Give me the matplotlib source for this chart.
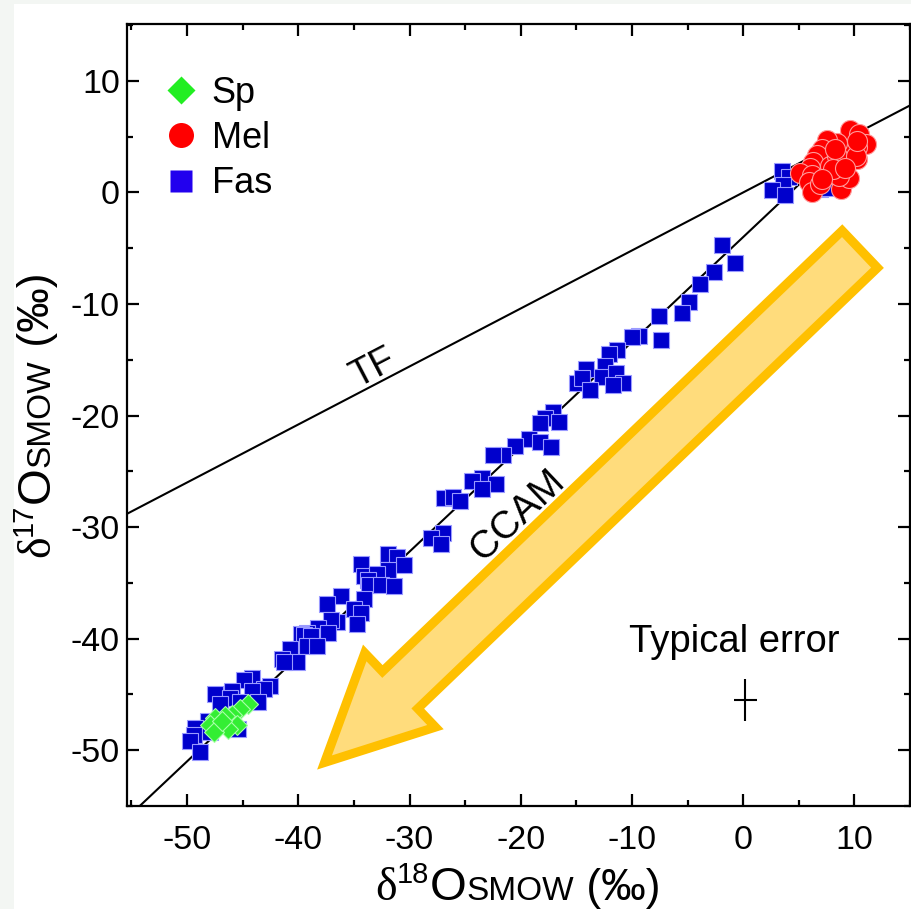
import matplotlib
matplotlib.use('Agg')
import matplotlib.pyplot as plt
from matplotlib.patches import FancyArrow, Rectangle
from matplotlib.lines import Line2D
from matplotlib.ticker import MultipleLocator
import numpy as np

plt.rcParams['font.family'] = ['Liberation Sans', 'DejaVu Sans']
plt.rcParams['axes.unicode_minus'] = False

# ---------------- data ----------------
fas_x = [3.5, 4.1, 3.6, 2.6, 3.8, 6.9, 7.4,
         -1.9, -0.7, -2.6, -3.9, -4.9, -5.5, -7.6, -7.4, -9.4, -10.0, -11.3, -12.1,
         -12.4, -14.1, -12.7, -11.4, -10.8, -11.7, -14.9, -14.5, -13.8, -17.1, -17.8,
         -18.3, -16.6, -19.3, -18.3, -17.3, -20.5, -21.6, -22.5, -23.5, -24.4, -22.2,
         -23.5, -26.9, -26.1, -25.5, -27.0, -28.1, -27.2, -31.9, -31.1, -30.5, -34.4,
         -31.9, -34.1, -32.9, -33.7, -33.6, -32.6, -31.4, -36.2, -37.4, -34.1, -35.0,
         -34.4, -36.5, -37.1, -34.7, -38.2, -39.2, -39.8, -37.3, -39.5, -38.9, -39.2,
         -38.3, -40.7, -41.5, -40.1, -41.3, -44.2, -44.9, -42.5, -43.1, -44.2, -46.0,
         -47.5, -46.1, -43.6, -45.2, -47.0, -48.1, -49.3, -49.4, -49.7, -48.8, -45.4,
         -47.9]
fas_y = [1.9, 1.4, 0.7, 0.2, -0.2, 0.3, 0.4,
         -4.7, -6.3, -7.1, -8.2, -9.8, -10.8, -11.1, -13.2, -12.9, -13.0, -14.1, -14.5,
         -15.6, -15.8, -16.5, -16.2, -17.1, -17.3, -17.1, -16.6, -17.7, -19.7, -20.2,
         -20.7, -20.6, -22.1, -22.4, -22.8, -22.7, -23.5, -23.5, -25.6, -25.9, -26.1,
         -26.6, -27.4, -27.3, -27.7, -30.5, -31.0, -31.5, -32.4, -32.7, -33.4, -33.3,
         -33.8, -34.4, -34.2, -34.7, -35.2, -35.2, -35.3, -36.2, -36.9, -36.4, -37.3,
         -37.7, -38.5, -38.3, -38.7, -39.0, -39.5, -39.6, -39.5, -39.7, -39.8, -40.7,
         -40.7, -40.9, -41.8, -42.1, -42.1, -43.5, -43.7, -44.2, -44.5, -44.7, -44.7,
         -45.0, -45.3, -45.7, -45.7, -45.9, -47.4, -48.0, -48.6, -49.2, -50.2, -48.1,
         -48.4]

mel_x = [9.6, 10.4, 11.0, 10.2, 10.2, 9.3, 8.4, 7.5, 7.1, 6.6, 6.3, 6.0, 5.1, 6.2, 5.9,
         6.2, 7.5, 7.8, 8.7, 8.4, 8.3, 8.8, 9.5, 8.6, 6.9, 10.1, 8.1, 7.1, 10.2, 9.2]
mel_y = [5.6, 5.2, 4.3, 4.1, 3.0, 3.6, 4.4, 4.7, 3.9, 3.4, 2.7, 2.2, 1.7, 1.6, 0.9,
         0.0, 1.6, 2.4, 2.1, 3.3, 3.9, 0.3, 1.3, 1.5, 0.8, 3.3, 2.1, 1.2, 4.6, 2.2]

sp_x = [-44.5, -45.2, -46.0, -46.6, -47.5, -47.9, -45.5, -46.3, -47.6, -46.9]
sp_y = [-45.9, -46.3, -46.8, -46.9, -47.1, -47.7, -47.7, -48.1, -48.4, -47.4]

series_labels = ['Sp', 'Mel', 'Fas']

tf_slope, tf_icpt = 0.52, 0.0
ccam_slope, ccam_icpt = 0.94, -4.0

err_x, err_y, err_dx, err_dy = 0.2, -45.5, 1.0, 1.9

xlim = (-55.4, 15.0)
ylim = (-55.0, 15.1)
xticks = [-50, -40, -30, -20, -10, 0, 10]
yticks = [-50, -40, -30, -20, -10, 0, 10]

# arrow annotation (data coords)
arr_start = (10.49, -5.09)
arr_delta = (-48.13, -46.01)

# ---------------- figure ----------------
W, H = 912, 909
fig = plt.figure(figsize=(W / 100, H / 100), dpi=100)
fig.patch.set_facecolor('white')
fig.patches.append(Rectangle((0, 0), 14 / W, 1, transform=fig.transFigure,
                             facecolor='#f3f6f3', edgecolor='none', zorder=-10))
fig.patches.append(Rectangle((0, 1 - 4 / H), 1, 4 / H, transform=fig.transFigure,
                             facecolor='#f3f6f3', edgecolor='none', zorder=-10))

ax = fig.add_axes([127 / W, 1 - 806 / H, (910 - 127) / W, (806 - 24) / H])
ax.set_xlim(*xlim)
ax.set_ylim(*ylim)

# reference lines
tf_x = np.array(xlim)
ax.plot(tf_x, tf_slope * tf_x + tf_icpt, color='black', lw=1.5, zorder=2)
x_cross = (tf_icpt - ccam_icpt) / (ccam_slope - tf_slope)
x_bot = (ylim[0] - ccam_icpt) / ccam_slope
cc_x = np.array([x_bot, x_cross])
ax.plot(cc_x, ccam_slope * cc_x + ccam_icpt, color='black', lw=1.5, zorder=2)

# arrow
arrow = FancyArrow(arr_start[0], arr_start[1], arr_delta[0], arr_delta[1],
                   width=4.6, head_width=9.2, head_length=9.4,
                   length_includes_head=True, facecolor='#ffdc7c',
                   edgecolor='#ffc000', lw=6.5, joinstyle='miter', zorder=3)
ax.add_patch(arrow)

# data
ax.plot(fas_x, fas_y, ls='none', marker='s', ms=12.2, mfc='#0000cc',
        mec='#9a9aff', mew=0.8, zorder=4)
ax.plot(mel_x, mel_y, ls='none', marker='o', ms=14.4, mfc='#ff0000',
        mec='#ff9a9a', mew=0.8, zorder=5)
ax.plot(sp_x, sp_y, ls='none', marker='D', ms=10.5, mfc='#33ee33',
        mec='#a8ffa8', mew=0.8, zorder=6)

# typical error
ax.errorbar([err_x], [err_y], xerr=[err_dx], yerr=[err_dy], fmt='none',
            ecolor='black', elinewidth=1.5, capsize=0, zorder=6)
ax.text(-0.8, -40.3, 'Typical error', ha='center', va='center', fontsize=27.5)

# line labels
ax.text(-32.9, -16.6, 'TF', rotation=np.degrees(np.arctan(tf_slope)),
        rotation_mode='anchor', transform_rotates_text=True,
        ha='center', va='baseline', fontsize=27)
ax.text(-20.3, -29.0, 'CCAM', rotation=np.degrees(np.arctan(ccam_slope)),
        rotation_mode='anchor', transform_rotates_text=True,
        ha='center', va='center', fontsize=28)

# legend
handles = [Line2D([], [], ls='none', marker='D', ms=14.0, mfc='#22ee22', mec='none'),
           Line2D([], [], ls='none', marker='o', ms=18.0, mfc='#ff0000', mec='none'),
           Line2D([], [], ls='none', marker='s', ms=15.5, mfc='#2200ee', mec='none')]
ax.legend(handles, series_labels, loc='upper left',
          bbox_to_anchor=((163 - 127) / 783, 1 - (76 - 24) / 782),
          frameon=False, fontsize=26, handlelength=1.0, handletextpad=0.35,
          labelspacing=0.28, borderpad=0, borderaxespad=0)

# ticks & spines
ax.xaxis.set_major_locator(MultipleLocator(10))
ax.yaxis.set_major_locator(MultipleLocator(10))
ax.xaxis.set_minor_locator(MultipleLocator(5))
ax.yaxis.set_minor_locator(MultipleLocator(5))
ax.set_xticks(xticks)
ax.set_yticks(yticks)
ax.tick_params(which='both', direction='in', top=True, right=True, width=1.6,
               labelsize=24.5, colors='black')
ax.tick_params(which='major', length=8.5)
ax.tick_params(which='minor', length=4.3)
ax.tick_params(axis='x', pad=14)
ax.tick_params(axis='y', pad=5)
for sp in ax.spines.values():
    sp.set_linewidth(1.6)


# composite axis labels
def draw_pieces(pieces, center, baseline, vertical=False):
    r = fig.canvas.get_renderer()
    widths = []
    for s, size, fam, rise in pieces:
        t = fig.text(0, 0, s, fontsize=size, family=fam)
        widths.append(t.get_window_extent(r).width)
        t.remove()
    total = sum(widths)
    if not vertical:
        x = center - total / 2
        for (s, size, fam, rise), w in zip(pieces, widths):
            fig.text(x / W, (H - (baseline - rise)) / H, s, fontsize=size,
                     family=fam, ha='left', va='baseline')
            x += w
    else:
        y = center + total / 2
        for (s, size, fam, rise), w in zip(pieces, widths):
            fig.text((baseline - rise) / W, (H - y) / H, s, fontsize=size,
                     family=fam, ha='left', va='baseline', rotation=90,
                     rotation_mode='anchor')
            y -= w


sans = ['Liberation Sans', 'DejaVu Sans']
serif = ['Liberation Serif', 'DejaVu Serif']
xl = [('δ', 33, serif, 0), ('18', 21, sans, 17), ('O', 34, sans, 0),
      ('SMOW', 24, sans, 0), (' (‰)', 32, sans, 0)]
yl = [('δ', 33, serif, 0), ('17', 21, sans, 17), ('O', 34, sans, 0),
      ('SMOW', 24, sans, 0), (' (‰)', 32, sans, 0)]
draw_pieces(xl, 518, 900, vertical=False)
draw_pieces(yl, 415, 49, vertical=True)

fig.savefig('out.png', dpi=100, facecolor=fig.get_facecolor())
